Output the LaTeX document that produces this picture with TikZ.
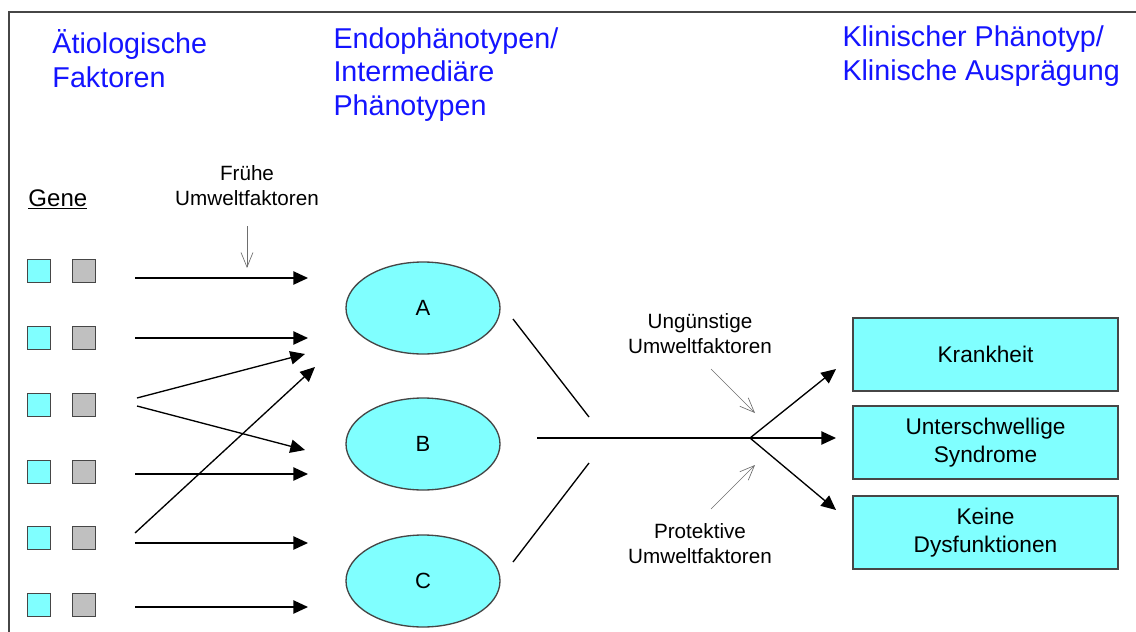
\documentclass[tikz,border=0pt]{standalone}
\usepackage{fontspec}
\setmainfont{Liberation Sans}
\usetikzlibrary{arrows.meta,shapes.geometric}

\definecolor{hellcyan}{RGB}{128,255,255}
\definecolor{hellgrau}{RGB}{192,192,192}
\definecolor{titelblau}{RGB}{20,20,255}
\definecolor{rahmen}{RGB}{70,70,70}

\tikzset{every picture/.style={line width=0.75pt}}

\begin{document}
\begin{tikzpicture}[x=0.75pt,y=0.75pt,yscale=-1,xscale=1,
  genA/.style={draw=rahmen, fill=hellcyan, line width=1pt, minimum size=17.25pt, inner sep=0pt},
  genB/.style={genA, fill=hellgrau},
  pfeil/.style={line width=1pt, -{Triangle[length=11pt,width=10pt]}},
  umwelt/.style={draw={rgb,255:red,110;green,110;blue,110}, line width=0.5pt, -{Straight Barb[length=11pt,width=9pt]}},
  endo/.style={ellipse, draw=rahmen, fill=hellcyan, line width=1pt, minimum width=115.5pt, minimum height=69pt, font=\fontsize{16.5}{19}\selectfont},
  ergebnis/.style={draw=rahmen, fill=hellcyan, line width=1.2pt, minimum width=198.75pt, minimum height=54.75pt, align=center, font=\fontsize{17}{20.5}\selectfont},
  titel/.style={text=titelblau, align=left, anchor=base west, inner sep=0pt, font=\fontsize{21.5}{25}\selectfont},
  klein/.style={align=center, anchor=base, inner sep=0pt, font=\fontsize{15.5}{18.5}\selectfont}]
\useasboundingbox (0,0) rectangle (1136,632);

%Frame (open to the right and bottom)
\draw [rahmen, line width=1.5pt] (9,650) -- (9,12) -- (1150,12) ;

% Headings (placed at the baseline of their last line)
\node[titel] (aetio) at (52,87) {Ätiologische\\Faktoren};
\node[titel] (endoph) at (333,115) {Endophänotypen/\\Intermediäre\\Phänotypen};
\node[titel] (klin) at (842,80) {Klinischer Phänotyp/\\Klinische Ausprägung};

% Genes
\node[anchor=base west, inner sep=0pt, font=\fontsize{18}{20}\selectfont] (gene) at (28,206) {\underline{Gene}};
\foreach \y [count=\i] in {271,338,405,472,538,605} {
  \node[genA] (c\i) at (39,\y) {};
  \node[genB] (g\i) at (84,\y) {};
}

% Endophenotypes
\node[endo] (A) at (423,308) {A};
\node[endo] (B) at (423,444) {B};
\node[endo] (C) at (423,581) {C};

% Outcomes
\node[ergebnis] (krank) at (985.5,354.5) {Krankheit};
\node[ergebnis] (unter) at (985.5,442.5) {Unterschwellige\\Syndrome};
\node[ergebnis] (keine) at (985.5,532.5) {Keine\\Dysfunktionen};

% Environment labels
\node[klein] (frueh) at (247,205) {Frühe\\Umweltfaktoren};
\node[klein] (unguen) at (700,353) {Ungünstige\\Umweltfaktoren};
\node[klein] (protek) at (700,563) {Protektive\\Umweltfaktoren};

% Arrow end points
\coordinate (r1) at (135,278);  \coordinate (e1) at (308,278);
\coordinate (r2) at (135,338);  \coordinate (e2) at (308,338);
\coordinate (r3a) at (137,398); \coordinate (e3a) at (305,354);
\coordinate (r3b) at (137,406); \coordinate (e3b) at (305,450);
\coordinate (r4) at (135,474);  \coordinate (e4) at (308,474);
\coordinate (r5a) at (135,533); \coordinate (e5a) at (315,367);
\coordinate (r5b) at (135,543); \coordinate (e5b) at (308,543);
\coordinate (r6) at (135,607);  \coordinate (e6) at (308,607);

\draw[pfeil] (r1) -- (e1);
\draw[pfeil] (r2) -- (e2);
\draw[pfeil] (r3a) -- (e3a);
\draw[pfeil] (r3b) -- (e3b);
\draw[pfeil] (r4) -- (e4);
\draw[pfeil] (r5a) -- (e5a);
\draw[pfeil] (r5b) -- (e5b);
\draw[pfeil] (r6) -- (e6);

% Funnel lines and fork
\coordinate (fA) at (513,319);  \coordinate (fAe) at (589,417);
\coordinate (fC) at (513,562);  \coordinate (fCe) at (589,463);
\coordinate (fB) at (537,438);  \coordinate (gabel) at (750,438);
\draw[line width=1pt] (fA) -- (fAe);
\draw[line width=1pt] (fC) -- (fCe);
\draw[line width=1pt] (fB) -- (gabel);

\coordinate (k1) at (836,369);
\coordinate (k2) at (836,438);
\coordinate (k3) at (836,510);
\draw[pfeil] (gabel) -- (k1);
\draw[pfeil] (gabel) -- (k2);
\draw[pfeil] (gabel) -- (k3);

% Environment influences
\coordinate (fr1) at (247,226); \coordinate (fr2) at (247,268);
\coordinate (u1) at (711,369);  \coordinate (u2) at (755,413);
\coordinate (p1) at (711,509);  \coordinate (p2) at (755,465);
\draw[umwelt] (fr1) -- (fr2);
\draw[umwelt] (u1) -- (u2);
\draw[umwelt] (p1) -- (p2);

\end{tikzpicture}
\end{document}
